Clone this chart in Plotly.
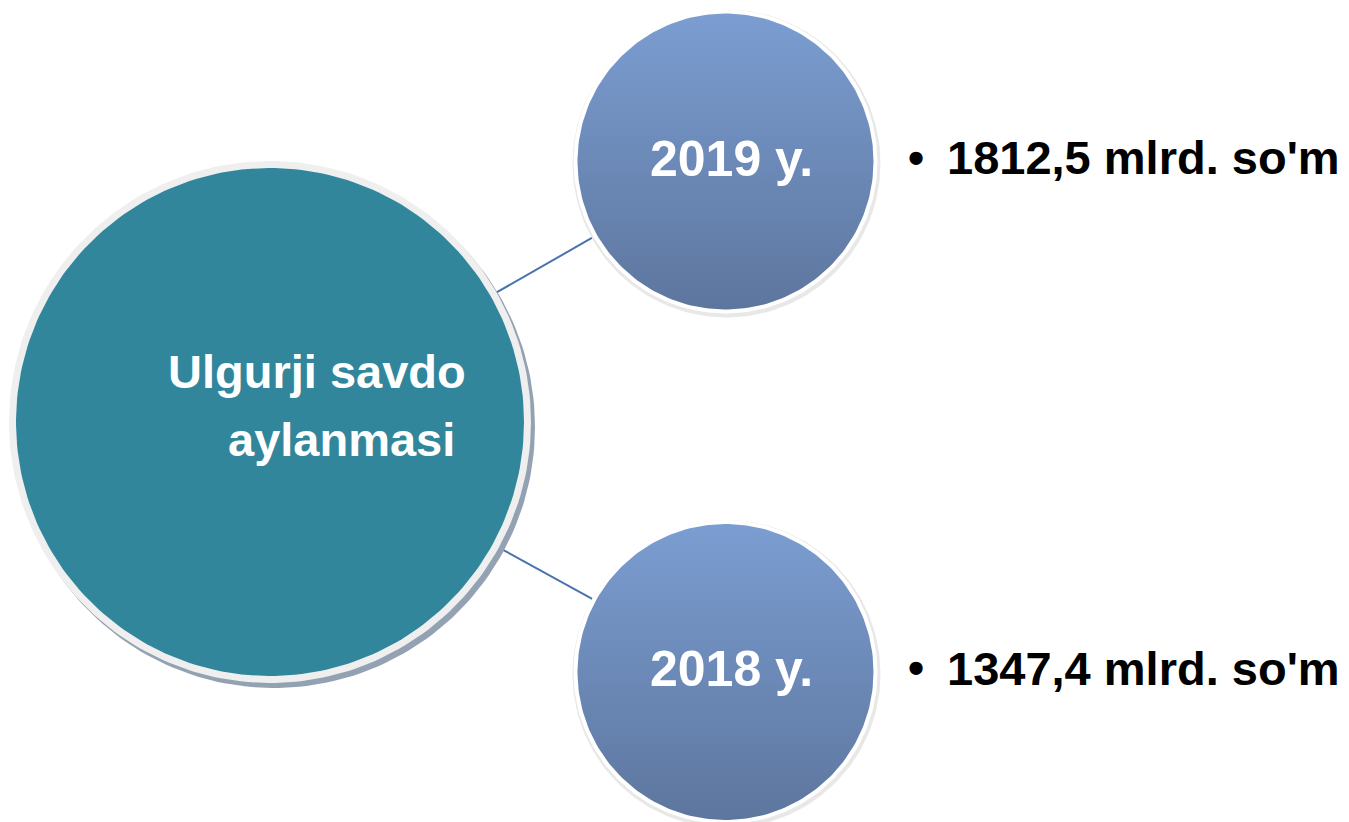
import numpy as np
import plotly.graph_objects as go

# ---- data ----
center_label = ["Ulgurji savdo", "aylanmasi"]
years = ["2019 y.", "2018 y."]
turnover = ["1812,5 mlrd. so'm", "1347,4 mlrd. so'm"]

# ---- layout geometry (pixels) ----
W, H = 1349, 822
big_c = (270, 422)
big_r_fill, big_r_border = 254, 261
small_c = [(725.5, 161.5), (725.5, 672)]
small_r_fill, small_r_border = 148, 152

TEAL = "#31869B"
GRAD_TOP, GRAD_BOT = "#7B9DD1", "#5D769E"
LINE_C = "#4A72AE"
FONT = "Liberation Sans, Arial, sans-serif"


def circ(cx, cy, r, n=240):
    t = np.linspace(0, 2 * np.pi, n)
    return cx + r * np.cos(t), cy + r * np.sin(t)


fig = go.Figure()


def add_disc(cx, cy, r, color):
    x, y = circ(cx, cy, r)
    fig.add_trace(go.Scatter(x=x, y=y, mode="lines", fill="toself",
                             fillcolor=color, line=dict(width=0, color=color),
                             hoverinfo="skip", showlegend=False))


# connector lines
for (sx, sy) in small_c:
    dx, dy = sx - big_c[0], sy - big_c[1]
    L = np.hypot(dx, dy)
    ux, uy = dx / L, dy / L
    x0, y0 = big_c[0] + ux * (big_r_border - 2), big_c[1] + uy * (big_r_border - 2)
    x1, y1 = sx - ux * (small_r_border - 2), sy - uy * (small_r_border - 2)
    fig.add_trace(go.Scatter(x=[x0, x1], y=[y0, y1], mode="lines",
                             line=dict(color=LINE_C, width=2),
                             hoverinfo="skip", showlegend=False))

# big circle: shadow, border, fill
add_disc(big_c[0] + 4, big_c[1] + 5, big_r_border, "#93A2B2")
add_disc(big_c[0], big_c[1], big_r_border, "#EFEFEF")
add_disc(big_c[0], big_c[1], big_r_fill, TEAL)

# small circles
for (sx, sy) in small_c:
    add_disc(sx + 1, sy + 2, small_r_border + 2, "#E8E8E8")
    add_disc(sx, sy, small_r_border, "#FFFFFF")
    x, y = circ(sx, sy, small_r_fill)
    fig.add_trace(go.Scatter(
        x=x, y=y, mode="lines", fill="toself",
        fillgradient=dict(type="vertical",
                          colorscale=[[0, GRAD_TOP], [1, GRAD_BOT]],
                          start=sy - small_r_fill, stop=sy + small_r_fill),
        line=dict(width=0), hoverinfo="skip", showlegend=False))

# texts
ann = []
ann.append(dict(x=317, y=371, text=center_label[0]))
ann.append(dict(x=341, y=439, text=center_label[1]))
for a in ann:
    a.update(xref="x", yref="y", showarrow=False, xanchor="center", yanchor="middle",
             font=dict(family=FONT, size=47, color="white", weight="bold"))

for (sx, sy), yr, val in zip(small_c, years, turnover):
    ann.append(dict(x=731, y=sy - 3, xref="x", yref="y", text=yr, showarrow=False,
                    xanchor="center", yanchor="middle",
                    font=dict(family=FONT, size=50, color="white", weight="bold")))
    ann.append(dict(x=916, y=sy - 4, xref="x", yref="y", text="•", showarrow=False,
                    xanchor="center", yanchor="middle",
                    font=dict(family=FONT, size=46, color="black", weight="bold")))
    ann.append(dict(x=945, y=sy - 4, xref="x", yref="y", text=val, showarrow=False,
                    xanchor="left", yanchor="middle",
                    font=dict(family=FONT, size=47, color="black", weight="bold")))

fig.update_layout(
    width=W, height=H, margin=dict(l=0, r=0, t=0, b=0),
    paper_bgcolor="white", plot_bgcolor="white",
    xaxis=dict(range=[0, W], visible=False, fixedrange=True),
    yaxis=dict(range=[H, 0], visible=False, fixedrange=True),
    annotations=ann, showlegend=False,
)

fig.write_html("out.html", config={"displayModeBar": False},
               post_script="document.body.style.margin='0';document.body.style.overflow='hidden';")
